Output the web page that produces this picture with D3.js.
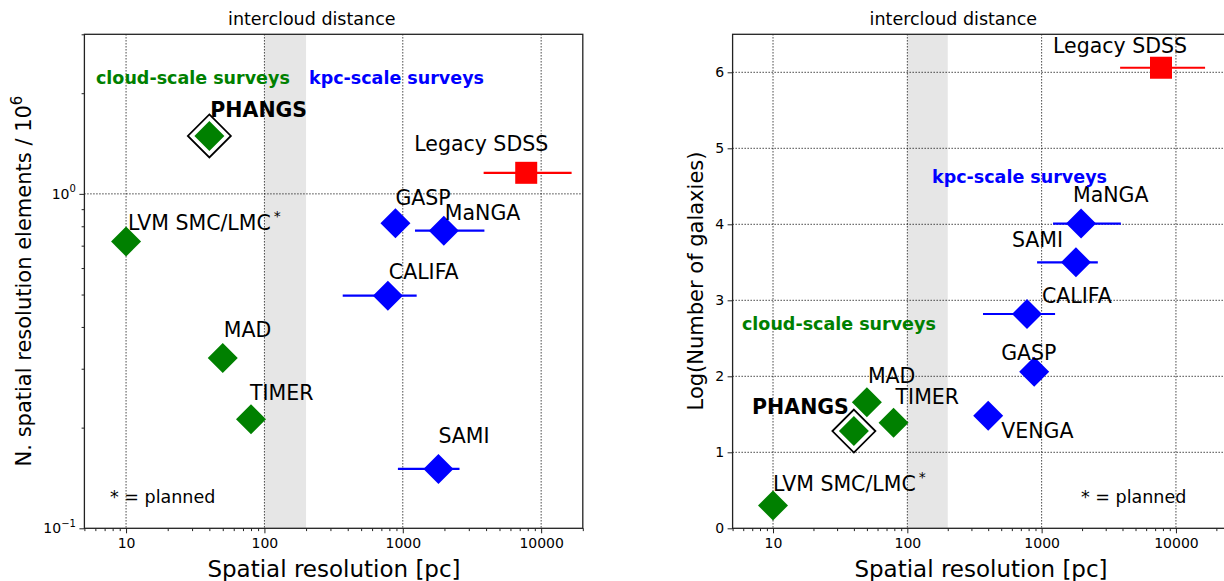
<!DOCTYPE html>
<html><head><meta charset="utf-8">
<script src="https://cdn.jsdelivr.net/npm/d3@7"></script>
<style>body{margin:0;background:#fff} text{font-family:"DejaVu Sans",sans-serif;fill:#000}</style>
</head><body><svg id="c" width="1224" height="581"></svg>
<script>
// ---------------- data ----------------
// left panel: number of spatial resolution elements (in units of 10^6)
const leftNames    = ["PHANGS","LVM SMC/LMC","MAD","TIMER","GASP","MaNGA","CALIFA","SAMI","Legacy SDSS"];
const leftRes      = [40, 10, 50, 80, 885, 1980, 780, 1810, 7800];
const leftResLo    = [null, null, null, null, null, 1225, 368, 922, 3840];
const leftResHi    = [null, null, null, null, null, 3890, 1260, 2570, 16600];
const leftElements = [1.49, 0.72, 0.323, 0.212, 0.817, 0.776, 0.496, 0.1505, 1.156];
const leftGroup    = ["cloud","cloud","cloud","cloud","kpc","kpc","kpc","kpc","legacy"];
const leftPlanned  = [false, true, false, false, false, false, false, false, false];

// right panel: log(number of galaxies)
const rightNames   = ["PHANGS","LVM SMC/LMC","MAD","TIMER","VENGA","GASP","CALIFA","SAMI","MaNGA","Legacy SDSS"];
const rightRes     = [40, 10, 50, 79, 400, 880, 778, 1800, 1965, 7740];
const rightResLo   = [null, null, null, null, null, null, 366, 925, 1216, 3840];
const rightResHi   = [null, null, null, null, null, null, 1259, 2620, 3890, 16480];
const rightLogN    = [1.28, 0.30, 1.66, 1.39, 1.48, 2.06, 2.82, 3.50, 4.01, 6.06];
const rightGroup   = ["cloud","cloud","cloud","cloud","kpc","kpc","kpc","kpc","kpc","legacy"];
const rightPlanned = [false, true, false, false, false, false, false, false, false, false];

const xTicks      = [10, 100, 1000, 10000];
const xTickLabels = ["10", "100", "1000", "10000"];
const leftYTicks  = [0.1, 1];
const leftYTickBase = ["10", "10"];
const leftYTickExp  = ["\u22121", "0"];
const rightYTicks = [0, 1, 2, 3, 4, 5, 6];
const rightYTickLabels = ["0","1","2","3","4","5","6"];
const bandRange   = [100, 200];

// ---------------- layout / style ----------------
const colors = {cloud: "#008000", kpc: "#0000ff", legacy: "#ff0000"};
const plotTop = 34.3, plotBottom = 528.3;
const svg = d3.select("#c");

// label offsets in px (layout only)
const leftLabelOff = {
  "PHANGS":[1,-19], "LVM SMC/LMC":[2,-12], "MAD":[1,-21], "TIMER":[-1,-19], "GASP":[0,-18],
  "MaNGA":[1,-11], "CALIFA":[1,-17], "SAMI":[0,-26], "Legacy SDSS":[-112,-22]
};
const rightLabelOff = {
  "PHANGS":[-5,-17,"end"], "LVM SMC/LMC":[0,-15], "MAD":[1,-19], "TIMER":[2,-19], "VENGA":[13,22],
  "GASP":[-33,-12], "CALIFA":[15,-11], "SAMI":[-64,-15], "MaNGA":[-8,-22], "Legacy SDSS":[-108,-15]
};

function drawPanel(p) {
  const g = svg.append("g");
  const x = p.x, y = p.y;
  const [x0, x1] = x.range();
  const clipId = "clip" + p.id;
  g.append("clipPath").attr("id", clipId).append("rect")
    .attr("x", x0).attr("y", plotTop).attr("width", x1 - x0).attr("height", plotBottom - plotTop);
  const plot = g.append("g").attr("clip-path", `url(#${clipId})`);

  // band
  plot.append("rect").attr("x", x(bandRange[0])).attr("y", plotTop)
    .attr("width", x(bandRange[1]) - x(bandRange[0])).attr("height", plotBottom - plotTop)
    .attr("fill", "#e6e6e6");

  // grid
  plot.selectAll(".gx").data(xTicks).join("line")
    .attr("x1", d => x(d)).attr("x2", d => x(d)).attr("y1", plotTop).attr("y2", plotBottom)
    .attr("stroke", "#000").attr("stroke-width", 1).attr("stroke-dasharray", "1.1,1.9");
  plot.selectAll(".gy").data(p.yGrid).join("line")
    .attr("x1", x0).attr("x2", x1).attr("y1", d => y(d)).attr("y2", d => y(d))
    .attr("stroke", "#000").attr("stroke-width", 1).attr("stroke-dasharray", "1.1,1.9");

  // error bars
  const idx = d3.range(p.names.length);
  plot.selectAll(".eb").data(idx.filter(i => p.lo[i] != null)).join("line")
    .attr("x1", i => x(p.lo[i])).attr("x2", i => x(p.hi[i]))
    .attr("y1", i => y(p.vals[i])).attr("y2", i => y(p.vals[i]))
    .attr("stroke", i => colors[p.group[i]]).attr("stroke-width", 2.2);

  // markers
  idx.forEach(i => {
    const cx = x(p.res[i]), cy = y(p.vals[i]);
    const col = colors[p.group[i]];
    if (p.group[i] === "legacy") {
      plot.append("rect").attr("x", cx - 11).attr("y", cy - 11).attr("width", 22).attr("height", 22).attr("fill", col);
    } else {
      if (p.names[i] === "PHANGS") {
        const R = 21.5;
        plot.append("path").attr("d", `M${cx},${cy-R}L${cx+R},${cy}L${cx},${cy+R}L${cx-R},${cy}Z`)
          .attr("fill", "#fff").attr("stroke", "#000").attr("stroke-width", 1.8);
      }
      const r = 15;
      plot.append("path").attr("d", `M${cx},${cy-r}L${cx+r},${cy}L${cx},${cy+r}L${cx-r},${cy}Z`).attr("fill", col);
    }
  });

  // ticks: x
  const xMinor = x.ticks().filter(t => !xTicks.includes(t));
  const xAxisMinor = d3.axisBottom(x).tickValues(xMinor).tickSize(2.8).tickFormat("");
  const xAxisMajor = d3.axisBottom(x).tickValues(xTicks).tickSize(5).tickPadding(5)
    .tickFormat((d, i) => xTickLabels[i]);
  const ax1 = g.append("g").attr("transform", `translate(0,${plotBottom})`).call(xAxisMinor);
  const ax2 = g.append("g").attr("transform", `translate(0,${plotBottom})`).call(xAxisMajor);
  [ax1, ax2].forEach(a => { a.select(".domain").remove(); a.selectAll("line").attr("stroke", "#222").attr("stroke-width", 1); });
  ax2.selectAll("text").attr("font-size", 14).attr("font-family", "DejaVu Sans").attr("fill", "#000");

  // y ticks
  const yMajor = p.yTicks;
  if (p.logY) {
    const yMinor = y.ticks().filter(t => !yMajor.some(m => Math.abs(m - t) < 1e-9));
    const ya = d3.axisLeft(y).tickValues(yMinor).tickSize(2.8).tickFormat("");
    const a = g.append("g").attr("transform", `translate(${x0},0)`).call(ya);
    a.select(".domain").remove(); a.selectAll("line").attr("stroke", "#222");
  }
  const yAxis = d3.axisLeft(y).tickValues(yMajor).tickSize(5).tickFormat("");
  const ay = g.append("g").attr("transform", `translate(${x0},0)`).call(yAxis);
  ay.select(".domain").remove(); ay.selectAll("line").attr("stroke", "#222");
  yMajor.forEach((t, i) => {
    const tx = g.append("text").attr("x", x0 - 8.5).attr("y", y(t) + 5).attr("text-anchor", "end").attr("font-size", 14);
    if (p.logY) {
      tx.append("tspan").text(leftYTickBase[i]);
      tx.append("tspan").attr("dy", -6.5).attr("font-size", 10).text(leftYTickExp[i]);
    } else {
      tx.text(rightYTickLabels[i]);
    }
  });

  // spines
  g.append("rect").attr("x", x0).attr("y", plotTop).attr("width", x1 - x0).attr("height", plotBottom - plotTop)
    .attr("fill", "none").attr("stroke", "#222").attr("stroke-width", 1.3);

  // labels
  idx.forEach(i => {
    const off = p.labelOff[p.names[i]];
    const t = g.append("text").attr("x", x(p.res[i]) + off[0]).attr("y", y(p.vals[i]) + off[1])
      .attr("font-size", 20.5).attr("text-anchor", off[2] || "start")
      .attr("font-weight", p.names[i] === "PHANGS" ? "bold" : "normal");
    t.append("tspan").text(p.names[i]);
    if (p.planned[i]) t.append("tspan").attr("dx", 3).attr("dy", -9).attr("font-size", 14).text("*");
  });

  // intercloud distance
  g.append("text").attr("x", x(220)).attr("y", 25).attr("text-anchor", "middle").attr("font-size", 17.5).text("intercloud distance");

  // group labels
  p.groupLabels.forEach(gl => {
    g.append("text").attr("x", gl.x).attr("y", gl.y).attr("font-size", 17.5).attr("font-weight", "bold")
      .style("fill", colors[gl.g]).text(gl.text);
  });

  // planned
  g.append("text").attr("x", p.plannedX).attr("y", 503).attr("font-size", 17.5).text("* = planned");

  // axis titles
  g.append("text").attr("x", p.xTitleX).attr("y", 577).attr("text-anchor", "middle").attr("font-size", 23)
    .text("Spatial resolution [pc]");
  const yt = g.append("text").attr("transform", `translate(${p.yTitleX},281) rotate(-90)`)
    .attr("text-anchor", "middle").attr("font-size", 21);
  p.yTitle(yt);
}

// left panel
const xL = d3.scaleLog().domain([5, 20000]).range([84.4, 582.8]);
const yL = d3.scaleLog().domain([0.1, 3]).range([plotBottom, plotTop]);
drawPanel({
  id: "L", x: xL, y: yL, logY: true, yTicks: leftYTicks, yGrid: [1],
  names: leftNames, res: leftRes, lo: leftResLo, hi: leftResHi, vals: leftElements,
  group: leftGroup, planned: leftPlanned, labelOff: leftLabelOff,
  groupLabels: [{text: "cloud-scale surveys", g: "cloud", x: 96, y: 84}, {text: "kpc-scale surveys", g: "kpc", x: 309, y: 84}],
  plannedX: 110, xTitleX: 334, yTitleX: 31,
  yTitle: t => { t.append("tspan").text("N. spatial resolution elements / 10"); t.append("tspan").attr("dy", -9).attr("font-size", 15).text("6"); }
});

// right panel
const xR = d3.scaleLog().domain([5, 40000]).range([732.6, 1256.8]);
const yR = d3.scaleLinear().domain([0, 6.5]).range([plotBottom, plotTop]);
drawPanel({
  id: "R", x: xR, y: yR, logY: false, yTicks: rightYTicks, yGrid: [1, 2, 3, 4, 5, 6],
  names: rightNames, res: rightRes, lo: rightResLo, hi: rightResHi, vals: rightLogN,
  group: rightGroup, planned: rightPlanned, labelOff: rightLabelOff,
  groupLabels: [{text: "kpc-scale surveys", g: "kpc", x: 932, y: 183}, {text: "cloud-scale surveys", g: "cloud", x: 742, y: 330}],
  plannedX: 1081, xTitleX: 981, yTitleX: 703,
  yTitle: t => t.text("Log(Number of galaxies)")
});
</script></body></html>
